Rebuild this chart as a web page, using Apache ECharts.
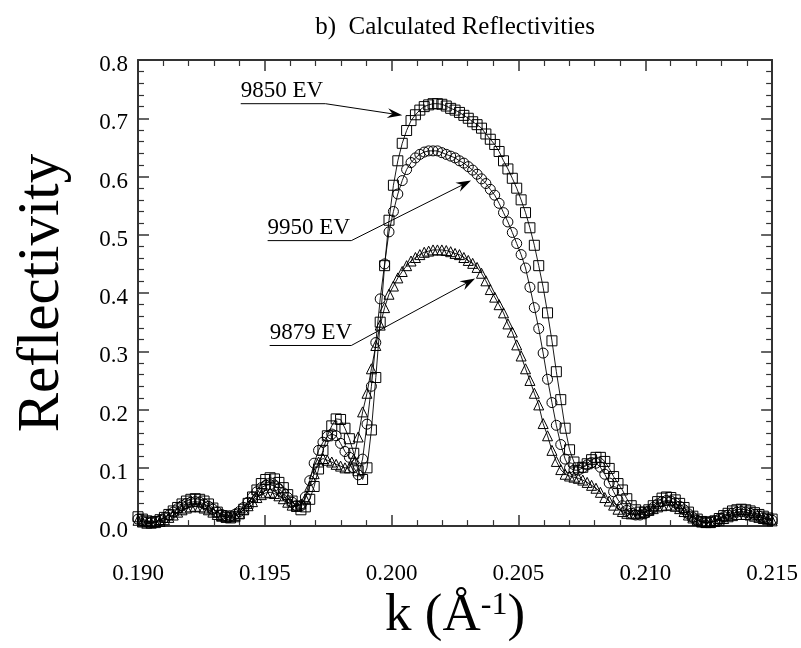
<!DOCTYPE html>
<html>
<head>
<meta charset="utf-8">
<title>Calculated Reflectivities</title>
<script src="https://cdn.jsdelivr.net/npm/echarts@6/dist/echarts.min.js"></script>
<style>
  html, body { margin: 0; padding: 0; background: #ffffff; }
  #chart { width: 801px; height: 648px; }
</style>
</head>
<body>
<div id="chart"></div>
<script>
// Sampling in k (1/Å): evenly spaced from K_START to K_END
const K_START = 0.190;
const K_END = 0.215;
const N_POINTS = 145;

// Reflectivity at each k sample, 9850 eV
const r9850 = [
  0.016,0.012,0.009,0.007,0.008,0.011,0.015,0.020,0.026,0.032,
  0.038,0.043,0.046,0.047,0.046,0.043,0.038,0.031,0.024,0.018,
  0.015,0.014,0.016,0.021,0.029,0.039,0.050,0.062,0.073,0.080,
  0.083,0.081,0.075,0.066,0.054,0.043,0.034,0.028,0.033,0.046,
  0.068,0.098,0.130,0.155,0.172,0.184,0.183,0.168,0.150,0.125,
  0.095,0.080,0.100,0.165,0.255,0.350,0.447,0.525,0.585,0.627,
  0.657,0.679,0.696,0.706,0.714,0.720,0.723,0.725,0.725,0.724,
  0.721,0.717,0.714,0.710,0.705,0.700,0.694,0.689,0.683,0.673,
  0.664,0.655,0.643,0.627,0.613,0.597,0.580,0.560,0.538,0.512,
  0.482,0.447,0.410,0.366,0.318,0.265,0.217,0.168,0.131,0.110,
  0.100,0.101,0.107,0.114,0.118,0.118,0.111,0.099,0.085,0.073,
  0.062,0.047,0.035,0.028,0.024,0.024,0.028,0.035,0.042,0.048,
  0.050,0.049,0.045,0.039,0.032,0.024,0.017,0.012,0.008,0.007,
  0.007,0.009,0.013,0.018,0.022,0.026,0.028,0.029,0.028,0.026,
  0.023,0.020,0.017,0.014,0.012
];

// Reflectivity at each k sample, 9950 eV
const r9950 = [
  0.012,0.009,0.007,0.006,0.007,0.010,0.014,0.019,0.024,0.030,
  0.035,0.039,0.041,0.042,0.041,0.038,0.034,0.029,0.024,0.020,
  0.018,0.018,0.020,0.025,0.032,0.041,0.050,0.059,0.066,0.070,
  0.071,0.069,0.064,0.057,0.049,0.041,0.035,0.035,0.050,0.078,
  0.108,0.130,0.144,0.154,0.158,0.155,0.142,0.128,0.118,0.100,
  0.088,0.115,0.175,0.240,0.315,0.390,0.450,0.505,0.540,0.570,
  0.593,0.612,0.624,0.632,0.638,0.642,0.644,0.644,0.644,0.641,
  0.638,0.635,0.632,0.627,0.623,0.617,0.611,0.604,0.596,0.588,
  0.578,0.568,0.554,0.538,0.522,0.504,0.485,0.466,0.443,0.410,
  0.375,0.339,0.297,0.252,0.212,0.173,0.140,0.115,0.100,0.096,
  0.096,0.100,0.105,0.109,0.108,0.101,0.089,0.074,0.059,0.045,
  0.035,0.027,0.022,0.019,0.019,0.021,0.026,0.032,0.038,0.042,
  0.044,0.043,0.040,0.034,0.028,0.021,0.015,0.010,0.007,0.006,
  0.007,0.009,0.012,0.016,0.019,0.022,0.024,0.025,0.024,0.022,
  0.020,0.017,0.014,0.012,0.010
];

// Reflectivity at each k sample, 9879 eV
const r9879 = [
  0.010,0.007,0.005,0.005,0.006,0.008,0.011,0.015,0.019,0.024,
  0.028,0.031,0.033,0.034,0.033,0.031,0.028,0.024,0.020,0.017,
  0.016,0.016,0.018,0.022,0.028,0.035,0.042,0.049,0.054,0.057,
  0.058,0.056,0.052,0.047,0.041,0.036,0.034,0.038,0.047,0.068,
  0.090,0.110,0.116,0.113,0.110,0.106,0.103,0.100,0.100,0.115,
  0.153,0.196,0.228,0.270,0.310,0.345,0.375,0.398,0.412,0.426,
  0.437,0.447,0.455,0.461,0.466,0.470,0.472,0.474,0.474,0.474,
  0.473,0.471,0.468,0.466,0.461,0.456,0.451,0.444,0.434,0.421,
  0.406,0.393,0.380,0.366,0.347,0.333,0.311,0.292,0.270,0.250,
  0.228,0.208,0.176,0.155,0.130,0.111,0.097,0.089,0.086,0.084,
  0.082,0.079,0.075,0.070,0.065,0.058,0.049,0.043,0.036,0.029,
  0.025,0.022,0.021,0.021,0.022,0.024,0.027,0.030,0.033,0.035,
  0.036,0.036,0.034,0.030,0.025,0.019,0.014,0.010,0.007,0.006,
  0.006,0.008,0.010,0.013,0.016,0.018,0.020,0.020,0.020,0.019,
  0.017,0.015,0.013,0.011,0.009
];

// Curve labels with underline span and arrow tip, in (k, R) coordinates
const curveLabels = [
  { text: '9850 EV', from: 0.19405, to: 0.19739, level: 0.725, tip: [0.20042, 0.705] },
  { text: '9950 EV', from: 0.19511, to: 0.19841, level: 0.490, tip: [0.20313, 0.593] },
  { text: '9879 EV', from: 0.19519, to: 0.19841, level: 0.310, tip: [0.20329, 0.425] }
];

const FONT = '"Liberation Serif", "DejaVu Serif", serif';
const INK = '#000000';
const AXIS_INK = '#333333';

const kStep = (K_END - K_START) / (N_POINTS - 1);
const kSamples = [];
for (let i = 0; i < N_POINTS; i++) kSamples.push(K_START + i * kStep);
const toPoints = (vals) => vals.map((v, i) => [kSamples[i], v]);

const chart = echarts.init(document.getElementById('chart'), null, { renderer: 'canvas' });

const xAxisBase = {
  type: 'value',
  min: 0.190,
  max: 0.215,
  interval: 0.005,
  axisLine: { show: true, onZero: false, lineStyle: { color: AXIS_INK, width: 2 } },
  axisTick: { show: true, inside: true, length: 11, lineStyle: { color: AXIS_INK, width: 1.5 } },
  minorTick: { show: true, splitNumber: 5, length: 6, lineStyle: { color: AXIS_INK, width: 1.2 } },
  splitLine: { show: false }
};
const yAxisBase = {
  type: 'value',
  min: 0,
  max: 0.8,
  interval: 0.1,
  axisLine: { show: true, onZero: false, lineStyle: { color: AXIS_INK, width: 2 } },
  axisTick: { show: true, inside: true, length: 11, lineStyle: { color: AXIS_INK, width: 1.5 } },
  minorTick: { show: true, splitNumber: 5, length: 6, lineStyle: { color: AXIS_INK, width: 1.2 } },
  splitLine: { show: false }
};

function curve(name, vals, symbol, size) {
  return {
    name: name,
    type: 'line',
    xAxisIndex: 0,
    yAxisIndex: 0,
    data: toPoints(vals),
    symbol: symbol,
    symbolSize: size,
    showSymbol: true,
    showAllSymbol: true,
    clip: false,
    lineStyle: { color: INK, width: 0.9 },
    itemStyle: { color: 'rgba(255,255,255,0)', borderColor: INK, borderWidth: 1 },
    emphasis: { disabled: true },
    animation: false
  };
}

chart.setOption({
  backgroundColor: '#ffffff',
  animation: false,
  grid: { left: 138, right: 27, top: 60, bottom: 109, containLabel: false },
  xAxis: [
    Object.assign({}, xAxisBase, {
      position: 'bottom',
      axisLabel: { show: true, margin: 36, color: INK, fontFamily: FONT, fontSize: 23,
                   formatter: (v) => v.toFixed(3) },
      name: '{n|k (Å}{s|-1}{n|)}',
      nameLocation: 'middle',
      nameGap: 57,
      nameTextStyle: {
        rich: {
          n: { fontFamily: FONT, fontSize: 53, color: INK },
          s: { fontFamily: FONT, fontSize: 32, color: INK, verticalAlign: 'top' }
        }
      }
    }),
    Object.assign({}, xAxisBase, { position: 'top', axisLabel: { show: false } })
  ],
  yAxis: [
    Object.assign({}, yAxisBase, {
      position: 'left',
      axisLabel: {
        show: true, margin: 10, color: INK,
        formatter: (v) => '{v|' + v.toFixed(1) + '}',
        rich: { v: { fontFamily: FONT, fontSize: 23, color: INK, padding: [10, 0, 0, 0] } }
      },
      name: 'Reflectivity',
      nameLocation: 'middle',
      nameRotate: 90,
      nameGap: 66,
      nameTextStyle: { fontFamily: FONT, fontSize: 59, color: INK }
    }),
    Object.assign({}, yAxisBase, { position: 'right', axisLabel: { show: false } })
  ],
  series: [
    curve('9850 EV', r9850, 'rect', 10),
    curve('9950 EV', r9950, 'circle', 10),
    curve('9879 EV', r9879, 'triangle', 10)
  ]
});

// Title, curve labels and arrows, placed from data coordinates
function overlay() {
  const grid = chart.getModel().getComponent('grid', 0).coordinateSystem.getRect();
  const px = (p) => chart.convertToPixel({ xAxisIndex: 0, yAxisIndex: 0 }, p);
  const els = [{
    type: 'text',
    x: grid.x + grid.width / 2,
    y: 27,
    style: { text: 'b)  Calculated Reflectivities', font: '25px ' + FONT, fill: INK,
             align: 'center', verticalAlign: 'middle', textAlign: 'center', textVerticalAlign: 'middle' }
  }];
  curveLabels.forEach((c) => {
    const a = px([c.from, c.level]);
    const b = px([c.to, c.level]);
    const t = px(c.tip);
    els.push({
      type: 'text', x: a[0], y: a[1] - 1,
      style: { text: c.text, font: '23px ' + FONT, fill: INK,
               align: 'left', verticalAlign: 'bottom', textAlign: 'left', textVerticalAlign: 'bottom' }
    });
    els.push({ type: 'line', shape: { x1: a[0], y1: a[1], x2: b[0], y2: b[1] },
               style: { stroke: INK, lineWidth: 1 } });
    const dx = t[0] - b[0], dy = t[1] - b[1];
    const len = Math.hypot(dx, dy);
    const ux = dx / len, uy = dy / len, nx = -uy, ny = ux;
    const headLen = 15, headHalf = 5, notch = 10;
    els.push({ type: 'line', shape: { x1: b[0], y1: b[1], x2: t[0] - ux * notch, y2: t[1] - uy * notch },
               style: { stroke: INK, lineWidth: 1 } });
    els.push({
      type: 'polygon',
      shape: { points: [
        [t[0], t[1]],
        [t[0] - ux * headLen + nx * headHalf, t[1] - uy * headLen + ny * headHalf],
        [t[0] - ux * notch, t[1] - uy * notch],
        [t[0] - ux * headLen - nx * headHalf, t[1] - uy * headLen - ny * headHalf]
      ] },
      style: { fill: INK }
    });
  });
  chart.setOption({ graphic: els });
}
overlay();
</script>
</body>
</html>
